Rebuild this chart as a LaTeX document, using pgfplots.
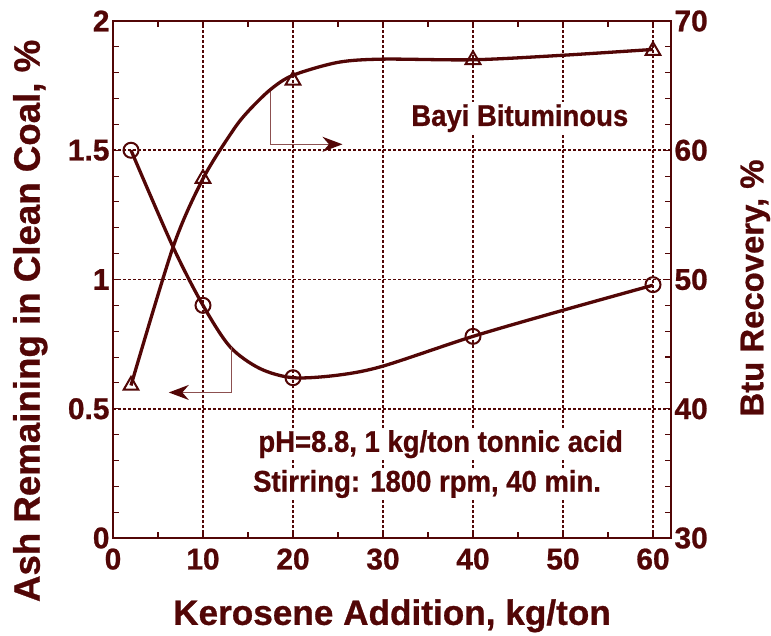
\documentclass[border=0pt]{standalone}
\usepackage{fontspec}
\setmainfont{Liberation Sans}[FakeStretch=0.92, BoldFeatures={FakeBold=0.8}]
\newfontfamily\plainfont{Liberation Sans}[BoldFeatures={FakeBold=0.8}]
\usepackage{pgfplots}
\pgfplotsset{compat=1.18}
\usetikzlibrary{arrows.meta}
\definecolor{maroon}{RGB}{82,6,6}
\definecolor{arrowline}{RGB}{140,80,80}
\newcommand{\notefont}{\fontsize{30}{30}\selectfont\bfseries}
\newcommand{\tickfont}{\plainfont\fontsize{30}{30}\selectfont\bfseries}

% circles: ash remaining (left axis)
\pgfplotstableread{
x   y
2   1.50
10  0.90
20  0.62
40  0.78
60  0.98
}\ashdata
% curve through ash points
\pgfplotstableread{
x     y
2     1.50
6.67  1.126
10    0.90
13    0.74
16.3  0.656
20    0.62
25    0.63
30    0.665
40    0.78
50    0.881
60    0.978
}\ashfit
% triangles: Btu recovery (right axis)
\pgfplotstableread{
x   y
2   41.8
10  57.8
20  65.4
40  67.0
60  67.7
}\btudata
\pgfplotstableread{
x     y
2     41.8
6.67  52.5
10    57.8
13.3  61.5
15    63.0
17.5  64.7
20    65.8
25    66.8
30    67.05
40    67.0
50    67.35
60    67.8
}\btufit

\begin{document}
\begin{tikzpicture}
\pgfplotsset{
  every tick label/.style={font=\tickfont, text=maroon},
  every axis/.append style={
    scale only axis, width=558bp, height=517bp,
    xmin=0, xmax=62,
    axis line style={maroon, line width=1.2bp},
    tick style={maroon, line width=1.1bp},
    major tick length=7bp, minor tick length=6bp,
    tick align=inside,
    /pgf/number format/assume math mode=true,
  },
}
\begin{axis}[
  ymin=0, ymax=2,
  xtick={0,10,...,60}, minor x tick num=1,
  ytick={0,0.5,...,2}, minor y tick num=4,
  ytick pos=left,
  xticklabel style={yshift=-7bp},
  grid=major,
  major grid style={maroon, line width=1.8bp, dash pattern=on 3bp off 2bp},
  xlabel={Kerosene Addition, kg/ton},
  ylabel={Ash Remaining in Clean Coal, \%},
  xlabel style={at={(axis description cs:0.5,-0.168)}, anchor=base,
    font=\plainfont\fontsize{35.3}{36}\selectfont\bfseries, text=maroon},
  ylabel style={at={(axis description cs:-0.1314,0.42)}, anchor=base,
    font=\plainfont\fontsize{36.8}{37}\selectfont\bfseries, text=maroon},
]
\addplot[maroon, line width=3.3bp, smooth, no marks] table {\ashfit};
\addplot[only marks, mark=o, mark size=7.5bp,
  mark options={draw=maroon, fill=white, line width=2bp}] table {\ashdata};

\draw[arrowline, line width=1.3bp, -{Stealth[length=20bp, width=15bp, color=maroon]}]
  (axis cs:17.5,1.736) -- (axis cs:17.5,1.523) -- (axis cs:25.5,1.523);
\draw[arrowline, line width=1.3bp, -{Stealth[length=20bp, width=15bp, color=maroon]}]
  (axis cs:13.2,0.74) -- (axis cs:13.2,0.563) -- (axis cs:6.2,0.563);

\node[fill=white, inner sep=2bp, text=maroon, font=\notefont]
  at (axis cs:45.2,1.624) {Bayi Bituminous};
\node[fill=white, inner sep=2bp, text=maroon, font=\notefont]
  at (axis cs:36.4,0.363) {pH=8.8, 1 kg/ton tonnic acid};
\node[fill=white, inner sep=2bp, text=maroon, font=\notefont]
  at (axis cs:34.9,0.209) {Stirring: 1800 rpm, 40 min.};
\end{axis}

\begin{axis}[
  ymin=30, ymax=70,
  axis y line*=right, axis x line=none,
  ytick={30,40,...,70}, minor y tick num=4,
  ylabel={Btu Recovery, \%},
  ylabel style={at={(axis description cs:1.1654,0.4836)}, anchor=base,
    font=\plainfont\fontsize{33}{34}\selectfont\bfseries, text=maroon},
]
\addplot[maroon, line width=3.3bp, smooth, no marks] table {\btufit};
\addplot[only marks, mark=triangle, mark size=8.5bp,
  mark options={draw=maroon, fill=white, line width=2bp}] table {\btudata};
\end{axis}

\pgfresetboundingbox
\path[use as bounding box] (current axis.south west) ++(-113bp,-98bp) rectangle ++(771bp,636bp);
\end{tikzpicture}
\end{document}
